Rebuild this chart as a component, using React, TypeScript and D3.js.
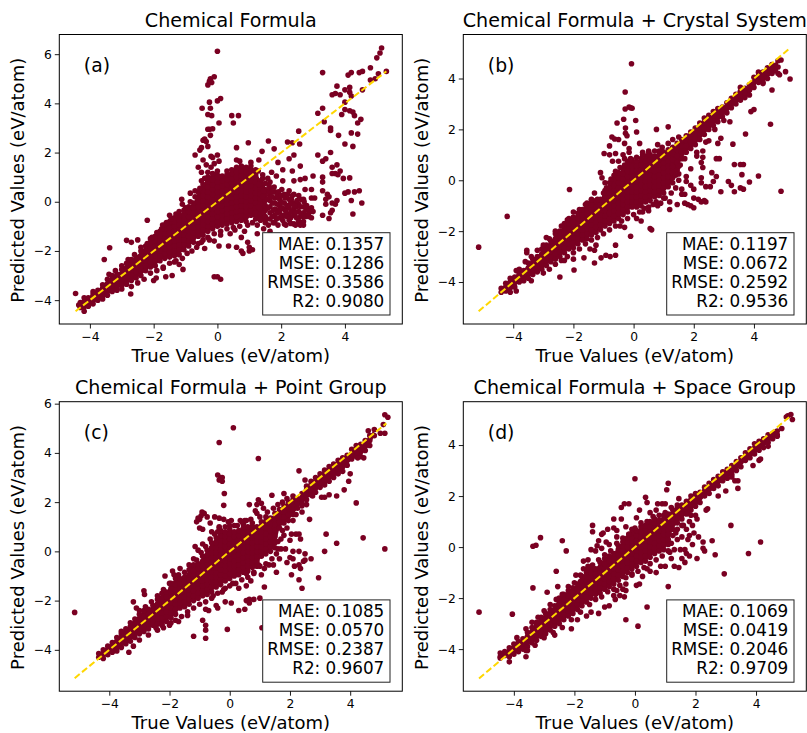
import React, { useEffect, useRef } from "react";
import * as d3 from "d3";

// each band row is one true value followed by the predicted values seen at it
const bandA = [
  [-4.3, -4.3, -4.1], [-4.18, -4.45, -4.25, -4.05, -3.9], [-4.05, -4.25, -4.05, -3.9], [-3.9, -4.15, -3.95, -3.75, -3.65],
  [-3.75, -4, -3.8, -3.6], [-3.6, -3.95, -3.72, -3.52, -3.38], [-3.45, -3.8, -3.55, -3.35, -3.15], [-3.3, -3.65, -3.4, -3.2, -3],
  [-3.15, -3.6, -3.35, -3.15, -2.95], [-3, -3.4, -3.15, -2.95, -2.75], [-2.85, -3.35, -3.1, -2.9, -2.7, -2.5], [-2.7, -3.2, -2.95, -2.75, -2.55, -2.35],
  [-2.55, -3.1, -2.85, -2.65, -2.45, -2.25], [-2.4, -3, -2.8, -2.6, -2.4, -2.2, -2], [-2.25, -2.8, -2.6, -2.4, -2.2, -2, -1.8], [-2.1, -2.65, -2.45, -2.25, -2.05, -1.85, -1.65, -1.5],
  [-1.95, -2.6, -2.4, -2.2, -2, -1.8, -1.6, -1.4], [-1.8, -2.4, -2.2, -2, -1.8, -1.6, -1.4, -1.2], [-1.65, -2.3, -2.1, -1.9, -1.7, -1.5, -1.3, -1.1, -0.95], [-1.5, -2.25, -2.05, -1.85, -1.65, -1.45, -1.25, -1.05, -0.8],
  [-1.35, -2.2, -2, -1.8, -1.6, -1.4, -1.2, -1, -0.8, -0.65], [-1.2, -2.15, -1.95, -1.75, -1.55, -1.35, -1.15, -0.95, -0.75, -0.55], [-1.05, -1.95, -1.75, -1.55, -1.35, -1.15, -0.95, -0.75, -0.55, -0.35], [-0.9, -1.8, -1.6, -1.4, -1.2, -1, -0.8, -0.6, -0.4, -0.2],
  [-0.75, -1.65, -1.45, -1.25, -1.05, -0.85, -0.65, -0.45, -0.25, -0.05], [-0.6, -1.4, -1.2, -1, -0.8, -0.6, -0.4, -0.2, 0, 0.2, 0.4], [-0.45, -1.35, -1.15, -0.95, -0.75, -0.55, -0.35, -0.15, 0.05, 0.25, 0.45, 0.7], [-0.3, -1.2, -1, -0.8, -0.6, -0.4, -0.2, 0, 0.2, 0.4, 0.6, 0.8, 1],
  [-0.15, -1.1, -0.9, -0.7, -0.5, -0.3, -0.1, 0.1, 0.3, 0.5, 0.7, 0.9, 1.15], [0, -1, -0.8, -0.6, -0.4, -0.2, 0, 0.2, 0.4, 0.6, 0.8, 1, 1.25], [0.15, -0.95, -0.75, -0.55, -0.35, -0.15, 0.05, 0.25, 0.45, 0.65, 0.85, 1.05], [0.3, -0.9, -0.7, -0.5, -0.3, -0.1, 0.1, 0.3, 0.5, 0.7, 0.9, 1.1],
  [0.45, -0.85, -0.65, -0.45, -0.25, -0.05, 0.15, 0.35, 0.55, 0.75, 0.95, 1.15, 1.3], [0.6, -0.8, -0.6, -0.4, -0.2, 0, 0.2, 0.4, 0.6, 0.8, 1, 1.2, 1.4], [0.75, -0.75, -0.55, -0.35, -0.15, 0.05, 0.25, 0.45, 0.65, 0.85, 1.05, 1.25, 1.45], [0.9, -0.8, -0.6, -0.4, -0.2, 0, 0.2, 0.4, 0.6, 0.8, 1, 1.2, 1.4],
  [1.05, -0.55, -0.35, -0.15, 0.05, 0.25, 0.45, 0.65, 0.85, 1.05, 1.25, 1.45], [1.2, -0.7, -0.45, -0.25, -0.05, 0.15, 0.35, 0.55, 0.8, 1.1, 1.3], [1.35, -0.75, -0.5, -0.3, -0.1, 0.1, 0.3, 0.55, 0.85], [1.5, -0.85, -0.6, -0.35, -0.15, 0.05, 0.25, 0.5, 0.75],
  [1.65, -0.7, -0.45, -0.2, 0.05, 0.25, 0.55, 0.8], [1.8, -0.85, -0.55, -0.3, -0.05, 0.15, 0.4], [1.95, -0.65, -0.4, -0.15, 0.1], [2.1, -0.9, -0.55, -0.3, -0.05, 0.3],
  [2.25, -0.75, -0.5, -0.25, 0.1, 0.45], [2.4, -0.9, -0.55, -0.3, -0.05, 0.3], [2.55, -0.65, -0.4, -0.1, 0.25], [2.7, -0.95, -0.45, -0.2, 0.1], [2.85, -0.5, -0.3],
];
const fringeA = [
  [-3.4, -2.95], [-3.2, -2.8], [-3, -2.6], [-2.8, -2.35], [-2.6, -2.15], [-2.4, -1.85], [-2.2, -1.7], [-2.05, -1.45], [-1.9, -1.25], [-1.75, -1.1], [-1.6, -0.85], [-1.45, -0.7], [-1.3, -0.5], [-1.2, -0.4], [-1, -0.25], [-0.85, 0], [-0.7, 0.2], [-0.55, 0.55], [-0.5, 0.85], [-0.4, 0.95], [-0.3, 1.2], [-0.2, 1.4], [-0.5, 1.2],
  [-3, -3.55], [-2.7, -3.45], [-2.5, -3.3], [-2.3, -3.15], [-2.1, -2.9], [-1.9, -2.8], [-1.7, -2.65], [-1.5, -2.5], [-1.3, -2.4], [-1.1, -2.3], [-0.95, -2.1], [-0.8, -2], [-0.6, -1.7], [-0.45, -1.55], [-0.3, -1.45], [-0.1, -1.3], [0.1, -1.2], [0.3, -1.1], [0.5, -1.05], [0.7, -1], [0.95, -0.95], [1.1, -0.85], [1.25, -0.95],
  [1.28, 1.25], [1.42, 1.1], [1.42, 0.95], [1.58, 0.95], [1.28, -0.2], [1.42, 0.2], [1.45, -0.45], [1.58, -0.25], [1.58, 0.4], [1.72, 0.4], [1.72, -0.05], [1.72, -0.6], [1.88, -0.45], [1.88, -0.1], [1.88, 0.25], [2.02, -0.55], [2.02, -0.25], [2.02, 0.5], [2.18, -0.6], [2.18, -0.15], [2.32, -0.4], [2.32, 0.1], [2.48, -0.65], [2.48, -0.2], [2.62, -0.5], [2.62, 0.1], [2.78, -0.6], [2.78, -0.3], [2.92, -0.4],
  [1.3, 0.7], [1.45, 0.45], [1.55, 0.1], [1.55, -0.7], [1.62, 0.65], [1.7, 0.2], [1.75, -0.35], [1.78, 0.6], [1.85, -0.7], [1.92, 0.4], [1.95, -0.3], [2, 0], [2, 0.25], [2.05, -0.75], [2.12, 0.15], [2.15, -0.4], [2.2, 0.3], [2.28, -0.1], [2.3, -0.65], [2.35, 0.25], [2.42, -0.15], [2.45, -0.45], [2.5, 0.05], [2.55, -0.8], [2.6, -0.2], [2.68, -0.6], [2.72, 0], [2.8, -0.15], [2.88, -0.6], [2.95, -0.25], [3, -0.4], [1.6, -0.95], [1.75, -0.85], [2.3, -0.88], [2.7, -0.8],
];
const outliersA = [
  [-4.45, -3.73], [-4.35, -4.2], [-3.55, -2.35], [-3.38, -1.87], [-2.85, -1.57], [-2.72, -3.75], [-2.7, -1.65], [-2.5, -1.55], [-2.2, -0.75], [-2, -3.2], [-1.92, -3.1], [-1.62, -3.05],
  [-1.42, -3], [-1.72, -0.95], [-1.5, -0.55], [-1.08, -2.75], [-1.2, -2.55], [-1.35, -2.45], [-1.12, 0.1], [-0.85, 0.35], [-0.7, 0.45], [-1.1, -0.1], [-1.7, -2.7],
  [0, 6.12], [-0.1, 5.08], [-0.22, 5], [-0.18, 4.85], [-0.3, 4.75], [-0.25, 4.9], [0.1, 4.2], [0, 4.1], [-0.25, 4.05], [-0.48, 3.8], [-0.22, 3.8], [-0.3, 3.55], [-0.18, 3.5],
  [0.45, 3.5], [0.66, 3.5], [0.5, 3.2], [0.05, 3.2], [-0.25, 2.95], [-0.15, 2.97], [-0.3, 2.95], [-0.22, 2.7], [-0.4, 2.55], [-0.35, 2.45], [-0.45, 2.5], [-0.3, 2.25], [-0.5, 2.2], [-0.55, 2.1], [-0.7, 1.9],
  [0.6, 2.2], [0.97, 2.4], [-0.2, 1.85], [-0.15, 1.8], [0, 1.9], [-0.45, 1.7], [-0.6, 1.4], [-0.35, 1.5], [-0.1, 1.55], [0.05, 1.65], [0.3, 1.25], [0.6, 1.7], [0.7, 1.65], [1.05, 1.6],
  [1.3, 1.7], [1.6, 2.47], [1.4, 2.05], [1.78, 2.15], [2.2, 2.43], [2.35, 2.4], [2.55, 2.87], [2.58, 2.35], [2.4, 1.9], [2.25, 1.75], [1.9, 1.6], [2.05, 1.3], [1.7, 1.2], [1.85, 1.05], [2.35, 1.25], [2.6, 1.45], [2.05, 0.85], [2.4, 0.85], [2.6, 0.9], [2.75, 0.95], [2.75, 0.5], [2.95, 0.5], [2.95, 0.15], [3.05, 0.15],
  [5.3, 5.3], [5.15, 6.25], [5.1, 6.05], [5, 5.85], [5.05, 5.2], [4.95, 5], [4.8, 4.95], [4.8, 5.45], [4.55, 5.3], [4.45, 5.25], [4.2, 5.25], [4.1, 5.15], [3.3, 5.25], [4, 4.55], [4.15, 4.65], [4.15, 4.45], [4.2, 4.3],
  [3.6, 4.35], [3.7, 4.4], [3.75, 4.7], [3.85, 4.35], [4, 4.05], [4.55, 4.55], [3.3, 3.8], [3.15, 3.6], [3.35, 3.25], [3.55, 3], [3.55, 2.9], [3.8, 2.7], [4, 3.75], [4.15, 3.7], [4.25, 3.65], [4.3, 3.5], [3.9, 3.55],
  [4.5, 3.35], [4.4, 3.2], [4.2, 2.8], [4.4, 2.75], [4, 2.35], [4.25, 2.25], [3.55, 2], [3.15, 1.9], [3.3, 1.65], [3.4, 1.75], [3.6, 1.4], [3.75, 1.5], [3.7, 1.15], [3.85, 1.25], [3.6, 1.15], [3.78, 1.1], [3.3, 1], [3, 1.05], [3.3, 0.8], [3.95, 0.95], [4.15, 0.97],
  [3.3, 0.45], [3.45, 0.3], [3.5, 0.2], [3.4, 0.1], [3.6, -0.05], [3.75, 0.05], [3.4, -0.1], [3.7, -0.1], [3.6, -0.35], [3.55, -0.45], [3.3, -0.55], [3.5, -0.68], [4, 0.35], [4.1, 0.4], [4.3, 0.4], [4.45, 0.45], [4.2, 0.05], [4.53, -0.05], [4.25, -0.5], [2.9, -0.4], [2.95, -0.65],
  [-0.1, -3.05], [0, -3.05], [0.1, -3.15], [1.1, -1.95], [1, -1.85], [0.6, -1.85], [0.75, -2], [0.8, -2.1], [0.35, -1.8], [1, -2], [0.05, -1.8], [-0.1, -1.6], [-0.4, -1.9], [-0.65, -1.85], [-0.5, -1.65], [-0.25, -1.55], [0.1, -1.35], [0.4, -1.3], [0.55, -1.15], [0.75, -1.45], [0.85, -1.2], [0.95, -1.65], [1.25, -1.3], [1.45, -1.1], [1.65, -1.2], [1.9, -0.95], [2.15, -0.95], [2.45, -0.95], [2.6, -0.95],
];

const bandB = [
  [-4.4, -4.4, -4.25], [-4.25, -4.35, -4.2, -4.05], [-4.1, -4.4, -4.2, -4, -3.85], [-3.95, -4.2, -4, -3.8], [-3.8, -4, -3.85, -3.65, -3.5], [-3.65, -3.95, -3.75, -3.55], [-3.5, -3.85, -3.65, -3.45, -3.25],
  [-3.35, -3.7, -3.5, -3.3, -3.1], [-3.2, -3.6, -3.4, -3.2, -3], [-3.05, -3.5, -3.3, -3.1, -2.9, -2.7], [-2.9, -3.35, -3.15, -2.95, -2.75, -2.55], [-2.75, -3.2, -3, -2.8, -2.6, -2.4], [-2.6, -3.1, -2.9, -2.7, -2.5, -2.3, -2.1], [-2.45, -3, -2.8, -2.6, -2.4, -2.2, -2],
  [-2.3, -2.85, -2.65, -2.45, -2.25, -2.05, -1.85, -1.7], [-2.15, -2.7, -2.5, -2.3, -2.1, -1.9, -1.7, -1.5], [-2, -2.65, -2.45, -2.25, -2.05, -1.85, -1.65, -1.45], [-1.85, -2.5, -2.3, -2.1, -1.9, -1.7, -1.5, -1.3], [-1.7, -2.35, -2.15, -1.95, -1.75, -1.55, -1.35, -1.15], [-1.55, -2.3, -2.1, -1.9, -1.7, -1.5, -1.3, -1.1, -0.9],
  [-1.4, -2.15, -1.95, -1.75, -1.55, -1.35, -1.15, -0.95, -0.78], [-1.25, -2.05, -1.85, -1.65, -1.45, -1.25, -1.05, -0.8], [-1.1, -1.95, -1.75, -1.55, -1.35, -1.15, -0.95, -0.75], [-0.95, -1.8, -1.6, -1.4, -1.2, -1, -0.8, -0.6, -0.4], [-0.8, -1.7, -1.5, -1.3, -1.1, -0.9, -0.7, -0.5, -0.3, -0.1], [-0.65, -1.6, -1.4, -1.2, -1, -0.8, -0.6, -0.4, -0.2, 0, 0.2],
  [-0.5, -1.5, -1.3, -1.1, -0.9, -0.7, -0.5, -0.3, -0.1, 0.1, 0.3], [-0.35, -1.35, -1.15, -0.95, -0.75, -0.55, -0.35, -0.15, 0.05, 0.25, 0.45], [-0.2, -1.25, -1.05, -0.85, -0.65, -0.45, -0.25, -0.05, 0.15, 0.35, 0.55, 0.75], [-0.05, -1.05, -0.85, -0.65, -0.45, -0.25, -0.05, 0.15, 0.35, 0.55, 0.8], [0.1, -1.05, -0.85, -0.65, -0.45, -0.25, -0.05, 0.15, 0.35, 0.55, 0.75], [0.25, -1, -0.8, -0.6, -0.4, -0.2, 0, 0.2, 0.4, 0.6, 0.85],
  [0.4, -0.85, -0.65, -0.45, -0.25, -0.05, 0.15, 0.35, 0.55, 0.75, 0.95], [0.55, -0.8, -0.6, -0.4, -0.2, 0, 0.2, 0.4, 0.6, 0.8, 1], [0.7, -0.65, -0.45, -0.25, -0.05, 0.15, 0.35, 0.55, 0.75, 0.95], [0.85, -0.6, -0.4, -0.2, 0, 0.2, 0.4, 0.6, 0.8, 1, 1.15], [1, -0.5, -0.3, -0.1, 0.1, 0.3, 0.5, 0.7, 0.9, 1.1], [1.15, -0.25, -0.05, 0.15, 0.35, 0.55, 0.75, 0.95, 1.2],
  [1.3, -0.1, 0.1, 0.3, 0.55, 0.8, 1.05, 1.3], [1.45, 0.4, 0.7, 0.95, 1.2, 1.45], [1.6, 0.85, 1.1, 1.35, 1.6], [1.75, 1.1, 1.35, 1.55, 1.75], [1.9, 1.25, 1.5, 1.7, 1.9], [2.05, 1.4, 1.65, 1.85, 2.05], [2.2, 1.6, 1.85, 2.05, 2.25], [2.35, 1.8, 2.05, 2.25, 2.45], [2.5, 2, 2.2, 2.4, 2.55], [2.65, 2.15, 2.35, 2.55, 2.7],
  [2.8, 2.3, 2.5, 2.7, 2.82], [2.95, 2.5, 2.7, 2.88], [3.1, 2.65, 2.85, 3.05], [3.25, 2.85, 3.05, 3.22], [3.4, 3, 3.2, 3.38], [3.55, 3.15, 3.32, 3.5, 3.65], [3.7, 3.25, 3.45, 3.62], [3.85, 3.35, 3.55, 3.75], [4, 3.65, 3.85, 4.05], [4.15, 3.9, 4.1, 4.25], [4.3, 3.85, 4.05, 4.25], [4.45, 4, 4.2, 4.42], [4.6, 4.2, 4.4, 4.55], [4.8, 4.2, 4.45, 4.7],
];
const fringeB = [
  [-3.9, -3.55], [-3.6, -3.2], [-3.4, -3], [-3.2, -2.75], [-3, -2.55], [-2.8, -2.3], [-2.6, -2], [-2.4, -1.8], [-2.2, -1.55], [-2, -1.25], [-1.8, -1.15], [-1.6, -0.95], [-1.4, -0.75], [-1.2, -0.75], [-1, -0.5], [-0.9, -0.3], [-0.75, 0.05], [-0.6, 0.35], [-0.45, 0.5], [-0.3, 0.6], [-0.1, 0.85], [0.1, 0.9], [0.3, 1], [0.5, 1.1], [0.7, 1.15], [0.95, 1.3], [1.15, 1.45], [1.3, 1.6], [1.5, 1.7],
  [-3.9, -4.35], [-3.4, -3.95], [-3, -3.65], [-2.8, -3.5], [-2.6, -3.3], [-2.4, -3.15], [-2.2, -3], [-2, -2.85], [-1.8, -2.7], [-1.6, -2.5], [-1.4, -2.35], [-1.2, -2.25], [-1, -2.1], [-0.8, -1.95], [-0.6, -1.8], [-0.4, -1.6], [-0.2, -1.5], [0, -1.35], [0.2, -1.25], [0.35, -1.1], [0.5, -1.05], [0.75, -0.85], [1, -0.7], [1.25, -0.5], [1.4, -0.3], [1.5, 0], [1.5, 0.25], [1.55, 0.6], [1.7, 0.85], [2.1, 1.1], [2.4, 1.5], [2.7, 2], [3, 2.35],
];
const outliersB = [
  [-5.15, -2.63], [-4.2, -1.42], [-2.13, -0.36], [-3.55, -2.75], [-3.55, -2.85], [-2.9, -2.25], [-2.45, -3.8], [-1.98, -3.53], [-2, -3.1], [-2.3, -3.15], [-1.65, -3.05], [-1.3, -3.25], [-1.3, -2.75], [-1.25, -2.55], [-1.08, -3.05], [-0.92, -2.95], [-0.78, -3], [-0.6, -2.95], [-0.6, -2.55], [-1.45, -2.7],
  [-0.07, 4.58], [-0.28, 3.47], [-0.28, 2.8], [-0.15, 2.88], [-0.05, 2.83], [-0.1, 2.85], [0.07, 2.35], [-0.33, 2.4], [-0.55, 2.25], [-0.27, 2.05], [-0.27, 1.85], [-0.22, 1.75], [0.1, 1.9], [0.76, 2], [1.15, 2.1], [-0.72, 1.7], [-0.63, 1.62], [-0.5, 1.6], [-0.8, 1.35], [-0.3, 1.45], [-0.15, 1.25], [0.2, 1.45], [-0.98, 1.05], [-0.8, 1], [-0.6, 1.05], [-0.35, 1], [-0.15, 1.1], [0.3, 1.1], [0.5, 1.15], [0.8, 1.4], [0.95, 1.15], [-0.7, 0.75], [-0.5, 0.75], [-0.3, 0.85], [-1.1, 0.3],
  [-1.05, 0.1], [-0.95, -0.1], [-1.3, -0.5], [1.4, 0.2], [1.5, 0.55], [1.6, -0.35], [1.75, 0.15], [1.9, 0.45], [2.1, 0.95], [2.3, 0.9], [2.25, 0.7], [2.3, 0.5], [2.75, 0.85], [2.85, 0.85], [2.6, 0.3], [2.75, 0.15], [2.25, 0.1], [2.25, -0.1], [2.4, -0.25], [2.55, -0.25], [2.65, -0.05], [2.9, -0.45], [3.15, -0.05], [3.25, -0.2], [3.35, -0.45], [3.55, -0.3], [3.65, -0.35], [3.85, -0.07], [4.15, 0.17],
  [3.35, 0.62], [3.55, 0.62], [3.65, 0.62], [3.6, 0.22], [4.9, -0.43], [3.3, 1.42], [3.72, 1.82], [4.55, 2.2], [3.9, 2.7], [4, 2.78], [3.2, 2.3], [2.9, 1.65], [2.5, 1.55], [2.8, 1.45], [2.3, 1.15],
  [1.75, -0.05], [1.9, -0.2], [2, -0.35], [1.7, -0.55], [1.45, -0.95], [1.6, -0.55], [1.7, -0.9], [1.8, -0.95], [1.9, -1], [2, -0.7], [2.15, -0.75], [2.25, -0.85], [2.35, -0.8], [2.4, -0.85], [2, -1.08], [1.2, -0.85], [1.05, -0.7], [0.9, -0.9], [0.65, -0.95], [0.5, -1.2], [0.3, -1.25], [0.8, -1], [1.2, -1.15], [0.1, -1.5], [0.55, -1.9], [0.6, -1.95], [-0.1, -2.2], [-0.3, -1.85], [-0.45, -1.8], [0.25, -1.6], [4.9, 4.73], [5.2, 3.98], [5.05, 4.27], [4.85, 4.15], [4.6, 3.55], [4.3, 3.8], [4.15, 3.85],
];

const bandC = [
  [-4.35, -4.3, -4.15], [-4.2, -4.35, -4.15, -4], [-4.05, -4.2, -4, -3.85], [-3.9, -4.1, -3.9, -3.7], [-3.75, -4.05, -3.85, -3.65, -3.5], [-3.6, -3.9, -3.7, -3.5, -3.35], [-3.45, -3.75, -3.55, -3.35, -3.15], [-3.3, -3.65, -3.45, -3.25, -3.05],
  [-3.15, -3.5, -3.3, -3.1, -2.9, -2.75], [-3, -3.35, -3.15, -2.95, -2.75, -2.55], [-2.85, -3.25, -3.05, -2.85, -2.65, -2.4], [-2.7, -3.15, -2.95, -2.75, -2.55, -2.35], [-2.55, -3, -2.8, -2.6, -2.4, -2.2], [-2.4, -2.95, -2.75, -2.55, -2.35, -2.15, -1.95], [-2.25, -2.95, -2.7, -2.5, -2.3, -2.1, -1.9, -1.7], [-2.1, -2.85, -2.65, -2.45, -2.25, -2.05, -1.85, -1.65],
  [-1.95, -2.7, -2.5, -2.3, -2.1, -1.9, -1.7, -1.5, -1.3], [-1.8, -2.55, -2.35, -2.15, -1.95, -1.75, -1.55, -1.35, -1.1], [-1.65, -2.3, -2.1, -1.9, -1.7, -1.5, -1.3, -1.1], [-1.5, -2.25, -2.05, -1.85, -1.65, -1.45, -1.25, -1.05], [-1.35, -2.15, -1.95, -1.75, -1.55, -1.35, -1.15, -0.95, -0.75], [-1.2, -2, -1.8, -1.6, -1.4, -1.2, -1, -0.8, -0.55],
  [-1.05, -1.9, -1.7, -1.5, -1.3, -1.1, -0.9, -0.7, -0.5], [-0.9, -1.8, -1.6, -1.4, -1.2, -1, -0.8, -0.6, -0.4, -0.2], [-0.75, -1.75, -1.55, -1.35, -1.15, -0.95, -0.75, -0.55, -0.35, -0.15, 0.05], [-0.6, -1.65, -1.45, -1.25, -1.05, -0.85, -0.65, -0.45, -0.25, -0.05, 0.15, 0.35], [-0.45, -1.45, -1.25, -1.05, -0.85, -0.65, -0.45, -0.25, -0.05, 0.15, 0.35, 0.55], [-0.3, -1.35, -1.15, -0.95, -0.75, -0.55, -0.35, -0.15, 0.05, 0.25, 0.45, 0.65, 0.85],
  [-0.15, -1.2, -1, -0.8, -0.6, -0.4, -0.2, 0, 0.2, 0.4, 0.6, 0.8], [0, -1.1, -0.9, -0.7, -0.5, -0.3, -0.1, 0.1, 0.3, 0.5, 0.7, 0.9], [0.15, -1, -0.8, -0.6, -0.4, -0.2, 0, 0.2, 0.4, 0.6, 0.8], [0.3, -0.95, -0.75, -0.55, -0.35, -0.15, 0.05, 0.25, 0.45, 0.65, 0.85], [0.45, -0.85, -0.65, -0.45, -0.25, -0.05, 0.15, 0.35, 0.55, 0.75, 0.95, 1.1], [0.6, -0.8, -0.6, -0.4, -0.2, 0, 0.2, 0.4, 0.6, 0.8, 1],
  [0.75, -0.65, -0.45, -0.25, -0.05, 0.15, 0.35, 0.55, 0.75, 0.95, 1.15], [0.9, -0.6, -0.4, -0.2, 0, 0.2, 0.4, 0.6, 0.8, 1], [1.05, -0.2, 0, 0.2, 0.4, 0.6, 0.8, 1, 1.2], [1.2, -0.1, 0.1, 0.3, 0.5, 0.7, 0.95, 1.2, 1.4], [1.35, 0, 0.2, 0.4, 0.6, 0.85, 1.1, 1.35], [1.5, 0.15, 0.35, 0.6, 0.85, 1.1, 1.35, 1.55],
  [1.65, 0.95, 1.2, 1.45, 1.7], [1.8, 1.15, 1.4, 1.6, 1.85], [1.95, 1.25, 1.5, 1.75, 2], [2.1, 1.5, 1.7, 1.9, 2.1], [2.25, 1.75, 1.95, 2.15], [2.4, 1.95, 2.15, 2.35], [2.55, 2.1, 2.3, 2.5, 2.65], [2.7, 2.3, 2.5, 2.7, 2.85], [2.85, 2.4, 2.6, 2.8, 3],
  [3, 2.6, 2.8, 3, 3.15], [3.15, 2.7, 2.9, 3.1, 3.3], [3.3, 2.85, 3.05, 3.25, 3.45], [3.45, 3, 3.2, 3.4, 3.55], [3.6, 3.15, 3.35, 3.55, 3.7], [3.75, 3.25, 3.45, 3.65, 3.8], [3.9, 3.5, 3.7, 3.9], [4.05, 3.75, 3.95, 4.15], [4.2, 3.85, 4.05, 4.3], [4.35, 3.85, 4.1, 4.35], [4.5, 4.1, 4.3, 4.5], [4.65, 4.3, 4.5, 4.7], [4.8, 4.7, 4.95],
];
const fringeC = [
  [-3.6, -3.25], [-3.3, -2.9], [-3, -2.4], [-2.8, -2.25], [-2.6, -2.05], [-2.4, -1.8], [-2.2, -1.55], [-2, -1.3], [-1.85, -0.95], [-1.7, -0.95], [-1.5, -0.85], [-1.3, -0.6], [-1.1, -0.35], [-0.95, -0.05], [-0.8, 0.2], [-0.65, 0.5], [-0.5, 0.7], [-0.35, 1], [-0.15, 1], [0.15, 1.05], [0.5, 1.25], [0.7, 1.3], [1, 1.4], [1.25, 1.6], [1.45, 1.75], [1.6, 1.9], [1.75, 2], [1.9, 2.15], [2.1, 2.25],
  [-3.2, -3.85], [-3, -3.6], [-2.7, -3.4], [-2.4, -3.2], [-2.2, -3.1], [-2, -3], [-1.8, -2.8], [-1.6, -2.65], [-1.4, -2.45], [-1.2, -2.3], [-1, -2.15], [-0.8, -2.05], [-0.6, -1.9], [-0.4, -1.7], [-0.2, -1.55], [0, -1.4], [0.2, -1.3], [0.4, -1.15], [0.6, -1.05], [0.8, -0.85], [1, -0.6], [1.2, -0.5], [1.4, -0.3], [1.6, 0.1], [1.7, 0.5], [1.9, 0.95], [2.1, 1.25], [2.4, 1.6],
];
const outliersC = [
  [-5.15, -2.48], [-3.2, -2.05], [-2.85, -1.6], [-2.83, -1.75], [-3.35, -4.1], [-3.1, -2.3], [-2.15, -1], [-1.9, -0.8], [-1.65, -0.7], [-1.2, -0.3], [-1.35, -0.55], [-1.05, 0.05], [-0.9, 0.3], [-1.15, 0.2],
  [0.12, 5.02], [-0.35, 4.42], [0.95, 3.77], [-0.4, 3.1], [-0.3, 3], [-0.35, 2.9], [-0.25, 3], [-0.25, 2.85], [-0.18, 2.35], [-0.2, 1.87], [0.65, 1.9], [0.9, 1.9], [0.95, 2.1], [1.05, 1.95], [1.4, 2.28], [1.8, 2.35], [0.85, 1.65], [0.9, 1.55], [1.12, 1.75],
  [-1, 1.3], [-0.95, 1.45], [-0.92, 1.6], [-0.85, 1.55], [-1.1, 1.2], [-1.05, 1.35], [-0.75, 1.4], [-0.5, 1.4], [-0.35, 1.35], [-0.2, 1.3], [-0.05, 1.2], [0.05, 1.25], [0.35, 1.25], [-1, 0.95], [-0.9, 0.9], [-0.65, 1.15], [-0.6, 0.8], [-0.4, 0.8], [-0.35, 0.95], [0, 1.05], [0.25, 1.05], [0.4, 1.2], [0.55, 1.25],
  [2.3, 3.27], [2.5, 2.9], [2.75, 2.25], [2.55, 1.9], [2.65, 1.3], [2.4, 1.85], [2.2, 1.5], [3.05, 2.2], [3.15, 2.2], [3.3, 2.3], [3.55, 2.25], [3.8, 2.5], [3.95, 2.85], [4, 3.15], [4.2, 1.97], [2.05, 0.7], [2.2, 0.7], [2.3, 0.7], [2.35, 0.5], [2, 0.45], [1.75, 0.85], [1.8, 0.65], [1.6, 0.4], [1.7, 0.1], [1.85, 0.1], [3.2, 0.7], [3.15, 0], [3.55, 0.33], [4.43, 0.55], [5.15, 0.1], [5.15, 5.55], [5.25, 5.45], [5.1, 5.15], [5.15, 4.8], [5, 4.8], [4.6, 4.9], [4.55, 4.45], [4.25, 3.8], [4.45, 3.8],
  [1.55, -0.1], [1.65, -0.3], [1.45, -0.55], [1.9, -0.45], [2, -0.25], [2.1, -0.3], [2.15, -0.6], [2.3, -0.55], [2.35, -0.7], [2.45, -0.4], [2.5, -0.35], [2.7, -0.3], [2.5, -0.1], [2.3, 0], [2.1, 0], [2.05, -0.95], [2.3, -1.15], [2.4, -1.5], [2.95, -1.07], [1.55, -0.85], [1.3, -0.55], [1.15, -0.7], [1.05, -0.95], [1.15, -1.45],
  [0.95, -0.55], [0.8, -0.9], [0.55, -0.9], [0.7, -1.2], [0.55, -1.4], [0.3, -1.5], [-0.15, -1.5], [0.1, -1.3], [-0.25, -1.65], [-0.55, -1.8], [-0.15, -2.05], [-0.4, -2.3], [-0.8, -2.35], [-0.7, -2.4], [-0.45, -2.2], [0.05, -2.1], [0.5, -2.35], [0.55, -2], [0.65, -2.1], [0.65, -1.95], [0.8, -1.95], [1, -1.9], [0.3, -2.4], [-0.9, -2.8], [-0.8, -3.2], [-1.2, -3.45], [-0.8, -3.53], [-0.8, -3], [-0.08, -3.17], [1.07, -3.1], [-1.4, -2.6], [-1.7, -2.85], [-1.95, -2.9], [-2.25, -3], [-2.45, -3.1],
];

const bandD = [
  [-4.45, -4.3, -4.15], [-4.3, -4.25, -4.1], [-4.15, -4.3, -4.1, -3.95], [-4, -4.2, -4, -3.8], [-3.85, -4.1, -3.9, -3.7], [-3.7, -4, -3.8, -3.6], [-3.55, -3.9, -3.7, -3.5, -3.35], [-3.4, -3.75, -3.55, -3.35, -3.15],
  [-3.25, -3.65, -3.45, -3.25, -3.05, -2.95], [-3.1, -3.5, -3.3, -3.1, -2.9, -2.75], [-2.95, -3.4, -3.2, -3, -2.8, -2.6], [-2.8, -3.25, -3.05, -2.85, -2.65, -2.45], [-2.65, -3.1, -2.9, -2.7, -2.5, -2.3], [-2.5, -3, -2.8, -2.6, -2.4, -2.2, -2], [-2.35, -2.85, -2.65, -2.45, -2.25, -2.05, -1.85], [-2.2, -2.7, -2.5, -2.3, -2.1, -1.9, -1.7],
  [-2.05, -2.6, -2.4, -2.2, -2, -1.8, -1.6], [-1.9, -2.45, -2.25, -2.05, -1.85, -1.65, -1.45], [-1.75, -2.3, -2.1, -1.9, -1.7, -1.5, -1.3, -1.15], [-1.6, -2.15, -1.95, -1.75, -1.55, -1.35, -1.15, -1], [-1.45, -2, -1.8, -1.6, -1.4, -1.2, -1, -0.85], [-1.3, -1.85, -1.65, -1.45, -1.25, -1.05, -0.85],
  [-1.15, -1.8, -1.6, -1.4, -1.2, -1, -0.8, -0.6], [-1, -1.65, -1.45, -1.25, -1.05, -0.85, -0.65, -0.45], [-0.85, -1.55, -1.35, -1.15, -0.95, -0.75, -0.55, -0.35], [-0.7, -1.45, -1.25, -1.05, -0.85, -0.65, -0.45, -0.25], [-0.55, -1.3, -1.1, -0.9, -0.7, -0.5, -0.3, -0.1, 0.05], [-0.4, -1.15, -0.95, -0.75, -0.55, -0.35, -0.15, 0.05, 0.2],
  [-0.25, -1, -0.8, -0.6, -0.4, -0.2, 0, 0.2, 0.35], [-0.1, -0.85, -0.65, -0.45, -0.25, -0.05, 0.15, 0.35, 0.55], [0.05, -0.75, -0.55, -0.35, -0.15, 0.05, 0.25, 0.45, 0.65], [0.2, -0.6, -0.4, -0.2, 0, 0.2, 0.4, 0.6, 0.8], [0.35, -0.55, -0.35, -0.15, 0.05, 0.25, 0.45, 0.65, 0.85], [0.5, -0.4, -0.2, 0, 0.2, 0.4, 0.6, 0.8, 1],
  [0.65, -0.25, -0.05, 0.15, 0.35, 0.55, 0.75, 0.95, 1.1], [0.8, -0.15, 0.05, 0.25, 0.45, 0.65, 0.85, 1.05], [0.95, -0.1, 0.1, 0.3, 0.5, 0.7, 0.9, 1.1, 1.25], [1.1, 0.1, 0.3, 0.5, 0.7, 0.9, 1.15, 1.3], [1.25, 0.7, 0.9, 1.1, 1.3, 1.45], [1.4, 0.95, 1.15, 1.35, 1.55],
  [1.55, 1.1, 1.3, 1.5, 1.65], [1.7, 1.3, 1.5, 1.7, 1.8], [1.85, 1.45, 1.65, 1.85, 2], [2, 1.6, 1.8, 2, 2.1], [2.15, 1.75, 1.95, 2.15], [2.3, 2, 2.2, 2.35], [2.45, 2.1, 2.3, 2.5], [2.6, 2.3, 2.45, 2.65], [2.75, 2.4, 2.6, 2.78], [2.9, 2.6, 2.75, 2.95], [3.05, 2.7, 2.9, 3.05], [3.2, 2.85, 3.05, 3.2],
  [3.35, 3, 3.2, 3.35], [3.5, 3.15, 3.35, 3.5], [3.65, 3.4, 3.55, 3.7], [3.8, 3.5, 3.7, 3.85], [3.95, 3.65, 3.85, 4.05], [4.1, 3.8, 4, 4.15], [4.25, 3.9, 4.1, 4.25], [4.4, 4.1, 4.25, 4.4], [4.55, 4.25, 4.45], [4.7, 4.4, 4.55],
];
const fringeD = [
  [-3.9, -3.55], [-3.6, -3.2], [-3.4, -2.95], [-3.2, -2.75], [-3, -2.5], [-2.8, -2.25], [-2.6, -2.05], [-2.4, -1.85], [-2.2, -1.55], [-2, -1.4], [-1.8, -1.1], [-1.6, -0.9], [-1.4, -0.7], [-1.2, -0.5], [-1, -0.3], [-0.8, -0.15], [-0.6, 0.15], [-0.4, 0.35], [-0.2, 0.5], [0, 0.75], [0.2, 0.95], [0.4, 1], [0.6, 1.2], [0.8, 1.25], [1, 1.35], [1.2, 1.55], [1.4, 1.65],
  [-3.6, -4.05], [-3.3, -3.85], [-3, -3.55], [-2.7, -3.35], [-2.4, -3.15], [-2.1, -2.85], [-1.8, -2.55], [-1.5, -2.25], [-1.3, -2.05], [-1.1, -1.95], [-0.9, -1.75], [-0.7, -1.65], [-0.5, -1.5], [-0.3, -1.2], [-0.1, -1.05], [0.1, -0.95], [0.3, -0.8], [0.5, -0.65], [0.7, -0.5], [0.9, -0.35], [1.1, -0.15], [1.2, 0.15], [1.25, 0.45], [1.4, 0.7], [1.55, 0.85],
];
const outliersD = [
  [-5.15, -2.55], [-4.05, -2.63], [-3.37, 0.03], [-3.27, 0.07], [-3.12, 0.37], [-2.4, 0.25], [-2.27, -0.15], [-1.7, -0.55], [-2.6, -0.95], [-3.37, -1.6], [-2.9, -1.77], [-2.55, -1.55], [-1.95, -1.1], [-1.8, -1.35], [-4.45, -4.35], [-4.15, -4.5], [-3.6, -4.3], [-3.55, -4.05], [-2.65, -3.45], [-2.1, -3.2], [-1.9, -2.85], [-1.6, -2.7], [-1.2, -2.6], [-1, -2.35], [-0.85, -2.3], [-1.45, -2.55],
  [0, 2.68], [1.1, 2.5], [1.05, 2.25], [0.35, 1.95], [0.4, 1.75], [-0.35, 1.7], [-0.2, 1.7], [-0.45, 1.55], [0.75, 1.7], [0.9, 1.7], [1, 1.7], [0.15, 1.45], [0.5, 1.35], [0.7, 1.45], [-0.7, 1.1], [-0.45, 1.1], [0.05, 1.15], [-0.7, 0.75], [-1.4, 0.85], [-1.4, 0.6], [-0.9, 0.7], [-0.6, 0.65], [-0.3, 0.8], [-1.2, 0.25], [-1.05, 0.55], [-1.1, 0.5], [-0.95, 0.2], [-0.6, 0.4], [-0.2, 0.5], [-0.1, 0.7], [-1.25, 0.05], [-0.85, 0.1], [-1.45, -0.1], [-1.3, -0.15], [-1.1, -0.05], [-1.55, -0.5], [-1.7, -0.85], [-1.55, -0.75],
  [1.45, 1.9], [1.75, 1.35], [1.85, 1.25], [2, 1.25], [2.05, 1.1], [1.8, 1], [1.9, 0.85], [1.6, 0.85], [1.35, 0.55], [1.4, 0.3], [1.55, 0.4], [1.7, 0.7], [1.8, 0.45], [1.95, 0.55], [2.1, 0.4], [1.9, 0.1], [1.75, 0.3], [2.25, 0.2], [2.55, 0.25], [2.25, -0.05], [2.3, -0.15], [2.65, -0.3], [3.17, 0.85], [1.15, -0.2], [1.3, -0.1], [1.5, -0.1], [1.65, -0.1], [1.7, -0.25], [1.8, -0.35], [1.2, -0.45], [1.55, -0.45], [1.65, -0.6], [2.05, -0.45], [3.75, -0.25], [4.15, 0.2], [2.95, -1.05], [1.1, -1.55], [0.85, -0.75], [1, -0.75], [1.3, -0.75], [1.45, -0.8], [0.4, -2.35], [-0.3, -2.85], [0.1, -3.1], [0.5, -0.95], [0.7, -1], [0.4, -0.85], [0.25, -1.15], [0.15, -1.45], [0.05, -1.5], [-0.3, -1.7], [-0.4, -1.65], [-0.5, -1.9], [-0.3, -1.45], [-0.1, -1.1], [-0.7, -1.9], [-0.65, -2.05], [-0.35, -1.95], [-0.6, -1.7],
  [3.2, 2.75], [3.4, 2.3], [3.4, 2.6], [3.3, 2.6], [2.75, 2], [2.4, 1.5], [2.35, 1.45], [3, 2.2], [3.9, 3.2], [4.1, 3.4], [4.15, 3.45], [4.4, 3.95], [4.7, 4.35], [4.85, 4.65], [4.6, 4.5], [5.05, 5.15], [5.15, 5.2], [5.2, 5], [5, 5.1],
];

// MAE, MSE, RMSE, R2 for each panel
const statsA = ["0.1357", "0.1286", "0.3586", "0.9080"];
const statsB = ["0.1197", "0.0672", "0.2592", "0.9536"];
const statsC = ["0.1085", "0.0570", "0.2387", "0.9607"];
const statsD = ["0.1069", "0.0419", "0.2046", "0.9709"];
const statNames = ["MAE", "MSE", "RMSE", "R2"];

const panels = [
  { title: "Chemical Formula", tag: "(a)", band: bandA, fringe: fringeA, outliers: outliersA, stats: statsA, x: [-4.96, 5.8], y: [-4.97, 6.8], line: [-4.45, 5.3], solidTo: 1.5, yTicks: [-4, -2, 0, 2, 4, 6], left: 59.3, top: 34.5 },
  { title: "Chemical Formula + Crystal System", tag: "(b)", band: bandB, fringe: fringeB, outliers: outliersB, stats: statsB, x: [-5.66, 5.74], y: [-5.65, 5.73], line: [-5.15, 5.2], solidTo: 6, yTicks: [-4, -2, 0, 2, 4], left: 463.3, top: 34.5 },
  { title: "Chemical Formula + Point Group", tag: "(c)", band: bandC, fringe: fringeC, outliers: outliersC, stats: statsC, x: [-5.66, 5.73], y: [-5.68, 6.08], line: [-5.15, 5.2], solidTo: 6, yTicks: [-4, -2, 0, 2, 4, 6], left: 59.3, top: 401.7 },
  { title: "Chemical Formula + Space Group", tag: "(d)", band: bandD, fringe: fringeD, outliers: outliersD, stats: statsD, x: [-5.67, 5.66], y: [-5.65, 5.7], line: [-5.15, 5.15], solidTo: 6, yTicks: [-4, -2, 0, 2, 4], left: 463.3, top: 401.7 },
];

const w = 343, h = 289.5;
const font = "'DejaVu Sans'";
const dotColor = "#7a0022";

export default function App() {
  const svgRef = useRef<SVGSVGElement>(null);

  useEffect(() => {
    const svg = d3.select(svgRef.current);
    svg.selectAll("*").remove();

    panels.forEach((p) => {
      const g = svg.append("g").attr("transform", `translate(${p.left},${p.top})`);
      const xScale = d3.scaleLinear().domain(p.x).range([0, w]);
      const yScale = d3.scaleLinear().domain(p.y).range([h, 0]);

      // the core of the cloud is solid in the picture, so close the gaps between rows
      const area = d3.area<number[]>()
        .x((row) => xScale(row[0]))
        .y0((row) => yScale(d3.min(row.slice(1))))
        .y1((row) => yScale(d3.max(row.slice(1))));
      g.append("path")
        .attr("d", area(p.band.filter((row) => row[0] <= p.solidTo)))
        .attr("fill", dotColor);

      const pts: number[][] = [];
      p.band.forEach((row) => row.slice(1).forEach((v) => pts.push([row[0], v])));
      p.fringe.forEach((o) => pts.push(o));
      p.outliers.forEach((o) => pts.push(o));

      g.append("g")
        .selectAll("circle")
        .data(pts)
        .enter()
        .append("circle")
        .attr("cx", (d) => xScale(d[0]))
        .attr("cy", (d) => yScale(d[1]))
        .attr("r", 2.8)
        .style("fill", dotColor);

      // identity line
      g.append("line")
        .attr("x1", xScale(p.line[0]))
        .attr("y1", yScale(p.line[0]))
        .attr("x2", xScale(p.line[1]))
        .attr("y2", yScale(p.line[1]))
        .attr("stroke", "#ffd700")
        .attr("stroke-width", 2)
        .attr("stroke-dasharray", "6.5,3");

      // axes
      const xAxis = g.append("g")
        .attr("transform", `translate(0,${h})`)
        .call(d3.axisBottom(xScale).tickValues([-4, -2, 0, 2, 4]).tickFormat(d3.format("d")).tickSize(4.5).tickSizeOuter(0));
      const yAxis = g.append("g")
        .call(d3.axisLeft(yScale).tickValues(p.yTicks).tickFormat(d3.format("d")).tickSize(4.5).tickSizeOuter(0));
      [xAxis, yAxis].forEach((a) => {
        a.select(".domain").remove();
        a.selectAll("line").attr("stroke", "#000").attr("stroke-width", 0.9);
        a.selectAll("text").attr("fill", "#000").style("font-family", font).style("font-size", "12.3px");
      });
      xAxis.selectAll("text").attr("y", 8);
      yAxis.selectAll("text").attr("x", -7.5);

      g.append("rect")
        .attr("width", w)
        .attr("height", h)
        .attr("fill", "none")
        .attr("stroke", "#000")
        .attr("stroke-width", 1);

      const addText = (x: number, y: number, txt: string, size: number, anchor: string) =>
        g.append("text")
          .attr("x", x)
          .attr("y", y)
          .attr("text-anchor", anchor)
          .style("font-family", font)
          .style("font-size", `${size}px`)
          .text(txt);

      addText(w / 2, -7.5, p.title, 19.1, "middle");
      addText(w / 2, h + 37.8, "True Values (eV/atom)", 18, "middle");
      addText(0, 0, "Predicted Values (eV/atom)", 18, "middle")
        .attr("transform", `translate(-35.5,${h / 2 + 1}) rotate(-90)`);
      addText(24.5, 37.5, p.tag, 18.8, "start");

      // stats box sits on top of the points
      g.append("rect")
        .attr("x", 203.4)
        .attr("y", 198.2)
        .attr("width", 127.3)
        .attr("height", 82.3)
        .attr("fill", "#fff")
        .attr("stroke", "#222")
        .attr("stroke-width", 1);
      p.stats.forEach((s, i) => {
        addText(325, 215.5 + i * 18.85, `${statNames[i]}: ${s}`, 16.8, "end");
      });
    });
  }, []);

  return <svg ref={svgRef} width="807" height="733" style={{ position: "absolute", left: 0, top: 0 }}></svg>;
}
